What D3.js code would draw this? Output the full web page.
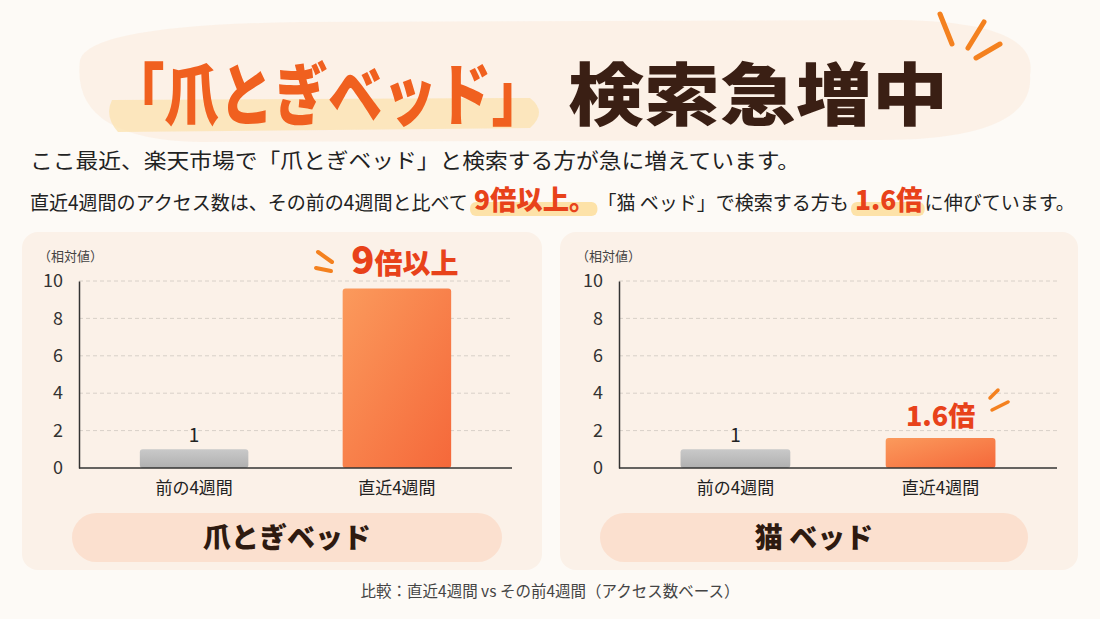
<!DOCTYPE html>
<html><head><meta charset="utf-8">
<script src="https://cdn.jsdelivr.net/npm/d3@7/dist/d3.min.js"></script>
<style>body{margin:0;background:#fdfaf6}svg{display:block}</style></head>
<body><svg id="c" width="1100" height="619"></svg>
<script>
const categories = ["前の4週間", "直近4週間"];
const panelNames = ["爪とぎベッド", "猫 ベッド"];
const seriesTsume = [1, 9.6];
const seriesNeko = [1, 1.6];
const valueLabels = [["1", "9倍以上"], ["1", "1.6倍"]];
const yTicks = [0, 2, 4, 6, 8, 10];

const F = "'Noto Sans CJK JP','Noto Sans',sans-serif";
const svg = d3.select("#c");
const defs = svg.append("defs");
const og = defs.append("linearGradient").attr("id","og").attr("x1",0).attr("y1",0).attr("x2",1).attr("y2",1);
og.append("stop").attr("offset","0").attr("stop-color","#fb9a5c");
og.append("stop").attr("offset","1").attr("stop-color","#f5683a");
const gg = defs.append("linearGradient").attr("id","gg").attr("x1",0).attr("y1",0).attr("x2",0).attr("y2",1);
gg.append("stop").attr("offset","0").attr("stop-color","#c9c9c9");
gg.append("stop").attr("offset","1").attr("stop-color","#b0b0b0");

svg.append("path").attr("d","M80,60 Q90,25 300,22 L900,20 Q1040,22 1030,75 Q1035,140 880,140 L200,142 Q70,140 80,60Z").attr("fill","#fbefe4").attr("opacity",0.8);
svg.append("path").attr("d","M112,100 L530,98 Q548,112 530,128 L118,132 Q104,116 112,100Z").attr("fill","#fbe3b3").attr("opacity",0.8);
svg.append("text").attr("x",110).attr("y",120).attr("font-family",F).attr("font-weight",900).attr("font-size",68)
  .attr("textLength",436).attr("lengthAdjust","spacingAndGlyphs").attr("fill","#f0601f").text("「爪とぎベッド」");
svg.append("text").attr("x",568).attr("y",120).attr("font-family",F).attr("font-weight",900).attr("font-size",68)
  .attr("textLength",380).attr("lengthAdjust","spacingAndGlyphs").attr("fill","#3a1f14").text("検索急増中");
[[940,14,952,44],[984,22,968,48],[1000,44,976,58]].forEach(l=>svg.append("line").attr("x1",l[0]).attr("y1",l[1]).attr("x2",l[2]).attr("y2",l[3]).attr("stroke","#f4811f").attr("stroke-width",5).attr("stroke-linecap","round"));

svg.append("text").attr("x",30).attr("y",168).attr("font-family",F).attr("font-size",21).attr("fill","#222")
  .attr("textLength",770).attr("lengthAdjust","spacingAndGlyphs").text("ここ最近、楽天市場で「爪とぎベッド」と検索する方が急に増えています。");
const parts = [
  {t:"直近4週間のアクセス数は、その前の4週間と比べて", hl:false},
  {t:"9倍以上。", hl:true},
  {t:"「猫 ベッド」で検索する方も", hl:false},
  {t:"1.6倍", hl:true},
  {t:"に伸びています。", hl:false}];
const hlG = svg.append("g");
let cx = 30;
const l2 = svg.append("g");
parts.forEach(p=>{
  if(p.hl) cx += 6;
  const t = l2.append("text").attr("x",cx).attr("y",210).attr("font-family",F)
    .attr("font-size",p.hl?27:19.5).attr("font-weight",p.hl?900:400).attr("fill",p.hl?"#e8421a":"#222").text(p.t);
  const w = t.node().getComputedTextLength();
  if(p.hl) hlG.append("rect").attr("x",cx-4).attr("y",202).attr("width",w+6).attr("height",14).attr("rx",6).attr("fill","#fde2a8");
  cx += w + (p.hl?2:0);
});
const k = (1075-30)/(cx-30);
l2.attr("transform",`translate(30,0) scale(${k},1) translate(-30,0)`);
hlG.attr("transform",`translate(30,0) scale(${k},1) translate(-30,0)`);

const panels = [
 {x0:22, w:520, ax0:79, ax1:512, data:seriesTsume, name:panelNames[0], labels:valueLabels[0], pill:[72,430]},
 {x0:560, w:518, ax0:619, ax1:1057, data:seriesNeko, name:panelNames[1], labels:valueLabels[1], pill:[600,428]}
];
const y = d3.scaleLinear().domain([0,10]).range([468,281]);
panels.forEach((p,pi)=>{
  const g = svg.append("g");
  g.append("rect").attr("x",p.x0).attr("y",232).attr("width",p.w).attr("height",338).attr("rx",16).attr("fill","#fbf1e8");
  g.append("text").attr("x",p.x0+16).attr("y",261).attr("font-family",F).attr("font-size",13).attr("fill","#444").text("（相対値）");
  const x = d3.scaleBand().domain(categories).range([p.ax0,p.ax1]).paddingInner(0.465).paddingOuter(0.3);
  yTicks.forEach(t=>{ if(t>0) g.append("line").attr("x1",p.ax0).attr("x2",p.ax1).attr("y1",y(t)).attr("y2",y(t)).attr("stroke","#d8d0c8").attr("stroke-dasharray","4,3"); });
  const ya = g.append("g").attr("transform",`translate(${p.ax0},0)`).call(d3.axisLeft(y).tickValues(yTicks).tickSize(0).tickPadding(16));
  ya.select(".domain").attr("stroke","#333").attr("stroke-width",1.5);
  ya.selectAll("text").attr("font-family",F).attr("font-size",18).attr("fill","#333");
  g.selectAll(".bar").data(p.data).join("rect").attr("x",(d,i)=>x(categories[i])).attr("width",x.bandwidth())
    .attr("y",d=>y(d)).attr("height",d=>y(0)-y(d)).attr("rx",3).attr("fill",(d,i)=>i===0?"url(#gg)":"url(#og)");
  const xa = g.append("g").attr("transform","translate(0,468)").call(d3.axisBottom(x).tickSize(0).tickPadding(14));
  xa.select(".domain").attr("stroke","#333").attr("stroke-width",1.5).attr("d",`M${p.ax0},0H${p.ax1}`);
  xa.selectAll("text").attr("font-family",F).attr("font-size",17).attr("fill","#222");
  g.append("text").attr("x",x(categories[0])+x.bandwidth()/2).attr("y",y(p.data[0])-7).attr("text-anchor","middle").attr("font-family",F).attr("font-size",19).attr("fill","#222").text(p.labels[0]);
  const bx = x(categories[1])+x.bandwidth()/2;
  const big = pi===0;
  const vt = g.append("text").attr("x",bx+(big?8:0)).attr("y",y(p.data[1])-(big?14:12)).attr("text-anchor","middle").attr("font-family",F).attr("font-weight",900).attr("fill","#e8421a");
  if(big){ vt.append("tspan").attr("font-size",38).text("9"); vt.append("tspan").attr("font-size",28).text("倍以上");
    [[318,252,332,262],[316,268,331,271]].forEach(l=>g.append("line").attr("x1",l[0]).attr("y1",l[1]).attr("x2",l[2]).attr("y2",l[3]).attr("stroke","#f4811f").attr("stroke-width",4).attr("stroke-linecap","round"));
  } else { vt.attr("font-size",27).text(p.labels[1]);
    [[990,398,998,390],[992,410,1008,402]].forEach(l=>g.append("line").attr("x1",l[0]).attr("y1",l[1]).attr("x2",l[2]).attr("y2",l[3]).attr("stroke","#f4811f").attr("stroke-width",3.5).attr("stroke-linecap","round"));
  }
  g.append("rect").attr("x",p.pill[0]).attr("y",513).attr("width",p.pill[1]).attr("height",49).attr("rx",24.5).attr("fill","#fbe0cf");
  g.append("text").attr("x",p.pill[0]+p.pill[1]/2).attr("y",548).attr("text-anchor","middle").attr("font-family",F).attr("font-weight",900).attr("font-size",28).attr("fill","#2e1a10").text(p.name);
});
svg.append("text").attr("x",550).attr("y",597).attr("text-anchor","middle").attr("font-family",F).attr("font-size",15.5).attr("fill","#444").text("比較：直近4週間 vs その前4週間（アクセス数ベース）");
</script></body></html>
